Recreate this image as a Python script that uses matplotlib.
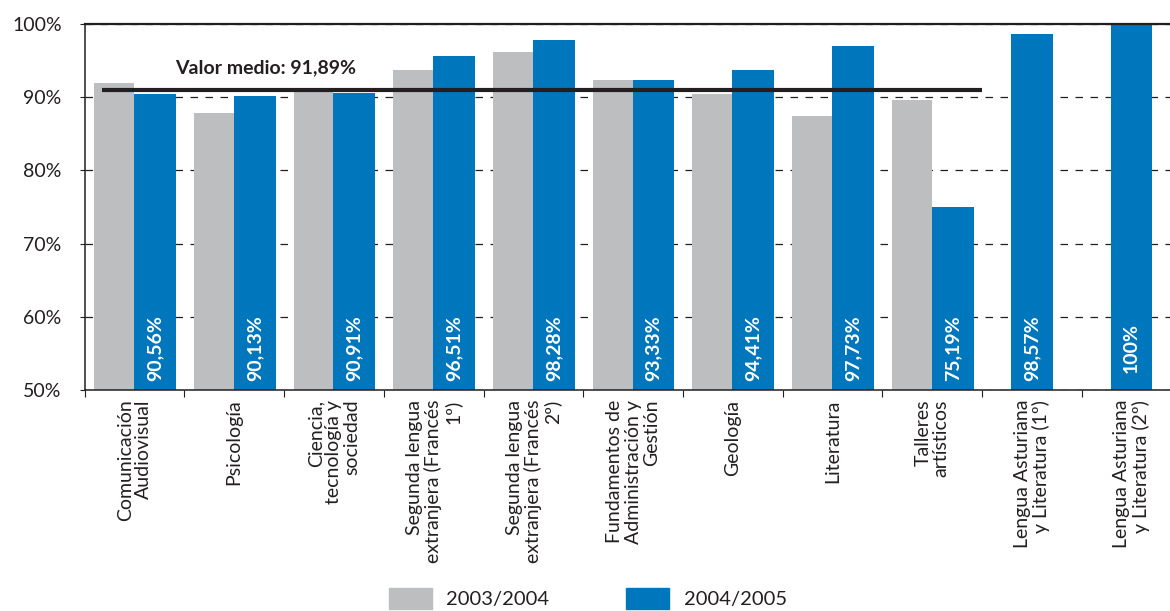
import numpy as np
import matplotlib
matplotlib.use("Agg")
import matplotlib.pyplot as plt
from matplotlib.patches import Patch

plt.rcParams['font.family'] = ['Lato', 'DejaVu Sans']

# datos
categorias = [
    "Comunicación\nAudiovisual",
    "Psicología",
    "Ciencia,\ntecnología y\nsociedad",
    "Segunda lengua\nextranjera (Francés\n1º)",
    "Segunda lengua\nextranjera (Francés\n2º)",
    "Fundamentos de\nAdministración y\nGestión",
    "Geología",
    "Literatura",
    "Talleres\nartísticos",
    "Lengua Asturiana\ny Literatura (1º)",
    "Lengua Asturiana\ny Literatura (2º)",
]
curso_0304 = [92.0, 87.8, 90.8, 93.7, 96.2, 92.35, 90.4, 87.4, 89.6, np.nan, np.nan]
curso_0405 = [90.45, 90.1, 90.6, 95.6, 97.8, 92.35, 93.7, 97.0, 75.0, 98.6, 100.0]
etiquetas_0405 = ["90,56%", "90,13%", "90,91%", "96,51%", "98,28%", "93,33%",
                  "94,41%", "97,73%", "75,19%", "98,57%", "100%"]
valor_medio = 91.0
texto_medio = "Valor medio: 91,89%"
yticks = [50, 60, 70, 80, 90, 100]

gris = "#bcbec0"
azul = "#0077bd"
oscuro = "#231f20"

fig = plt.figure(figsize=(11.7, 6.11), dpi=100)
ax = fig.add_axes([84.7 / 1170, 1 - 390 / 611, 11 * 99.7 / 1170, 366 / 611])

x = np.arange(len(categorias))
solo_azul = np.isnan(curso_0304)
off_azul = np.where(solo_azul, 0.0, 0.205)

ax.bar(x - 0.205, np.nan_to_num(curso_0304), width=0.40, color=gris, zorder=2)
ax.bar(x + off_azul, curso_0405, width=0.42, color=azul, zorder=2)

for xi, oi, lab in zip(x, off_azul, etiquetas_0405):
    ax.text(xi + oi, 55.7, lab, rotation=90, ha='center', va='center',
            color='white', fontweight='bold', fontsize=14, zorder=4)

# linea del valor medio
ax.hlines(valor_medio, -0.33, 8.5, color=oscuro, linewidth=3, zorder=3)
ax.text(1.31, 94.0, texto_medio, ha='center', va='center', fontsize=14,
        fontweight='bold', color=oscuro)

ax.set_xlim(-0.5, 10.5)
ax.set_ylim(50, 100)

ax.set_yticks(yticks)
ax.set_yticklabels([f"{v}%" for v in yticks], fontsize=14, color=oscuro)
ax.yaxis.grid(True, linestyle=(0, (6, 6)), color=oscuro, linewidth=0.9)
ax.set_axisbelow(True)
ax.tick_params(axis='y', direction='out', length=3.6, pad=13, color=oscuro)

ax.set_xticks(np.arange(-0.5, 11, 1))
ax.set_xticklabels([])
ax.tick_params(axis='x', which='major', direction='out', length=5, color=oscuro)
ax.set_xticks(x, categorias, minor=True)
ax.tick_params(axis='x', which='minor', length=0, pad=7)
for lbl in ax.get_xticklabels(minor=True):
    lbl.set_rotation(90)
    lbl.set_ha('center')
    lbl.set_va('top')
    lbl.set_multialignment('right')
    lbl.set_fontsize(14)
    lbl.set_linespacing(1.08)
    lbl.set_color(oscuro)

ax.spines['right'].set_visible(False)
for s in ['left', 'bottom']:
    ax.spines[s].set_color(oscuro)
    ax.spines[s].set_linewidth(1.1)
ax.spines['top'].set_color(oscuro)
ax.spines['top'].set_linewidth(1.6)

handles = [Patch(color=gris), Patch(color=azul)]
fig.legend(handles, ["2003/2004", "2004/2005"], loc='upper left',
           bbox_to_anchor=(379 / 1170, 1 - 578 / 611), ncol=2, frameon=False,
           fontsize=14.5, borderpad=0, handlelength=2.15, handleheight=1.25,
           handletextpad=0.7, columnspacing=3.8, labelcolor=oscuro)

fig.savefig("out.png", dpi=100)
